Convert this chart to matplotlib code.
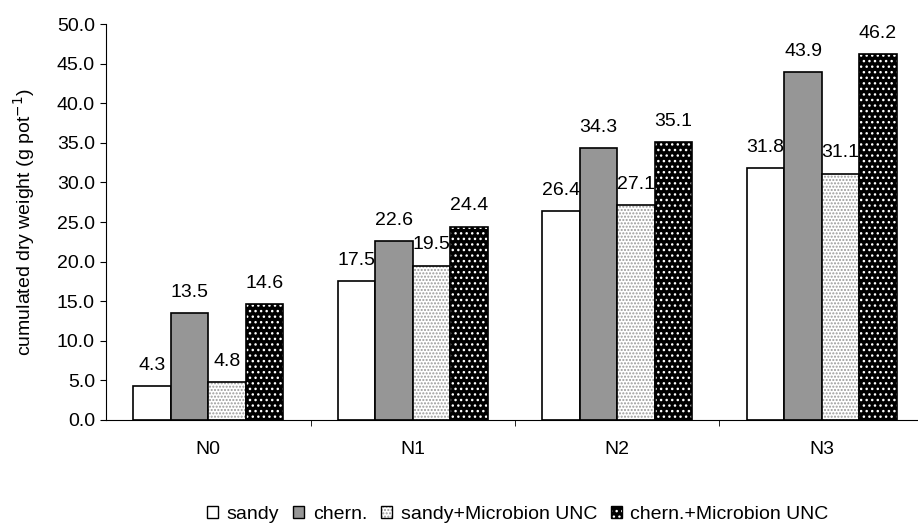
import numpy as np
import matplotlib
matplotlib.use('Agg')
import matplotlib.pyplot as plt
from matplotlib.patches import Patch

categories = ['N0', 'N1', 'N2', 'N3']
series = ['sandy', 'chern.', 'sandy+Microbion UNC', 'chern.+Microbion UNC']
sandy = [4.3, 17.5, 26.4, 31.8]
chern = [13.5, 22.6, 34.3, 43.9]
sandy_mic = [4.8, 19.5, 27.1, 31.1]
chern_mic = [14.6, 24.4, 35.1, 46.2]
values = [sandy, chern, sandy_mic, chern_mic]

faces = ['white', '#969696', 'white', 'black']
hatches = [None, None, '.....', '...']
hatch_cols = [None, None, '#999999', 'white']

plt.rcParams['font.family'] = ['Liberation Sans', 'DejaVu Sans']
plt.rcParams['hatch.linewidth'] = 1.0

fig = plt.figure(figsize=(9.18, 5.25), dpi=100)
# the original chart is cut on its right side, so the axes run past the figure edge
ax = fig.add_axes([0.1155, 0.2, 0.891, 0.754])

x = np.arange(len(categories))
w = 0.183
for i, (vals, fc, h, hc) in enumerate(zip(values, faces, hatches, hatch_cols)):
    pos = x + (i - 1.5) * w
    if h:
        ax.bar(pos, vals, w, color=fc, hatch=h, edgecolor=hc, linewidth=0)
        ax.bar(pos, vals, w, fill=False, edgecolor='black', linewidth=1.2)
    else:
        ax.bar(pos, vals, w, color=fc, edgecolor='black', linewidth=1.2)
    for p, v in zip(pos, vals):
        ax.annotate(f'{v:.1f}', (p, v), xytext=(0, 15), textcoords='offset points',
                    ha='center', va='center', fontsize=14)

ax.set_xlim(-0.5, 3.5)
ax.set_ylim(0, 50)
yt = np.arange(0, 50.1, 5)
ax.set_yticks(yt)
ax.set_yticklabels([f'{t:.1f}' for t in yt], fontsize=14)
ax.set_xticks(x)
ax.set_xticklabels(categories, fontsize=14)
ax.tick_params(axis='x', length=0, pad=15)
ax.set_xticks([0.5, 1.5, 2.5], minor=True)
ax.tick_params(axis='x', which='minor', length=4, direction='out')
ax.tick_params(axis='y', length=4, pad=4, direction='out')
ax.spines['top'].set_visible(False)
ax.spines['right'].set_visible(False)
ax.set_ylabel('cumulated dry weight (g pot$^{-1}$)', fontsize=14)
ax.yaxis.set_label_coords(-0.084, 0.5)

handles = []
for fc, h, hc in zip(faces, hatches, hatch_cols):
    if h:
        handles.append((Patch(facecolor=fc, hatch=h, edgecolor=hc, linewidth=0),
                        Patch(fill=False, edgecolor='black')))
    else:
        handles.append(Patch(facecolor=fc, edgecolor='black'))
fig.legend(handles, series, loc='center', bbox_to_anchor=(0.564, 0.02), ncol=4,
           frameon=False, fontsize=14, handlelength=0.57, handleheight=0.57,
           handletextpad=0.45, columnspacing=0.7, borderaxespad=0, borderpad=0)

fig.savefig('out.png', dpi=100)
